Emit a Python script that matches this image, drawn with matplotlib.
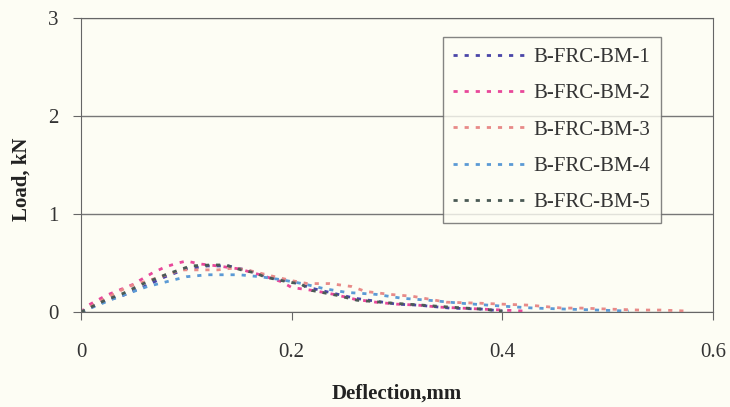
import matplotlib
matplotlib.use('Agg')
import matplotlib.pyplot as plt

# deflection (mm) and load (kN)
d1 = [0, 0.02, 0.04, 0.06, 0.08, 0.10, 0.12, 0.14, 0.16, 0.18, 0.20, 0.22, 0.24, 0.26, 0.28, 0.30, 0.32, 0.35, 0.38, 0.40]
p1 = [0, 0.10, 0.17, 0.26, 0.36, 0.44, 0.47, 0.47, 0.42, 0.35, 0.31, 0.24, 0.19, 0.14, 0.11, 0.08, 0.07, 0.04, 0.03, 0.01]

d2 = [0, 0.007, 0.024, 0.049, 0.068, 0.08, 0.092, 0.10, 0.113, 0.13, 0.15, 0.17, 0.19, 0.20, 0.22, 0.24, 0.26, 0.28, 0.30, 0.32, 0.34, 0.36, 0.38, 0.40, 0.42]
p2 = [0, 0.07, 0.17, 0.28, 0.40, 0.46, 0.50, 0.52, 0.49, 0.47, 0.44, 0.38, 0.31, 0.25, 0.22, 0.18, 0.13, 0.10, 0.08, 0.07, 0.05, 0.04, 0.03, 0.02, 0.01]

d3 = [0, 0.02, 0.045, 0.073, 0.095, 0.115, 0.13, 0.146, 0.161, 0.18, 0.20, 0.215, 0.236, 0.257, 0.27, 0.293, 0.315, 0.347, 0.378, 0.40, 0.425, 0.457, 0.475, 0.50, 0.53, 0.55, 0.575]
p3 = [0, 0.12, 0.26, 0.35, 0.43, 0.43, 0.43, 0.45, 0.42, 0.37, 0.32, 0.29, 0.29, 0.26, 0.21, 0.18, 0.16, 0.10, 0.09, 0.08, 0.07, 0.04, 0.04, 0.03, 0.02, 0.02, 0.01]

d4 = [0, 0.032, 0.063, 0.078, 0.089, 0.10, 0.12, 0.135, 0.15, 0.17, 0.19, 0.21, 0.23, 0.252, 0.28, 0.305, 0.33, 0.36, 0.40, 0.43, 0.46, 0.49, 0.52]
p4 = [0, 0.14, 0.26, 0.30, 0.33, 0.36, 0.38, 0.38, 0.38, 0.36, 0.33, 0.29, 0.24, 0.20, 0.18, 0.14, 0.12, 0.09, 0.06, 0.04, 0.03, 0.02, 0.01]

d5 = [0, 0.023, 0.04, 0.057, 0.08, 0.104, 0.123, 0.137, 0.152, 0.165, 0.174, 0.186, 0.20, 0.208, 0.219, 0.243, 0.262, 0.274, 0.296, 0.324, 0.35, 0.38, 0.40]
p5 = [0, 0.12, 0.19, 0.28, 0.38, 0.47, 0.48, 0.48, 0.43, 0.40, 0.36, 0.33, 0.30, 0.29, 0.22, 0.17, 0.12, 0.11, 0.09, 0.07, 0.05, 0.03, 0.01]

labels = ['B-FRC-BM-1', 'B-FRC-BM-2', 'B-FRC-BM-3', 'B-FRC-BM-4', 'B-FRC-BM-5']
colors = ['#4a46a8', '#e8489a', '#e88a88', '#5b9ad5', '#4a5a55']

plt.rcParams['font.family'] = ['Liberation Serif', 'DejaVu Serif']

bg = '#fdfdf4'
fig = plt.figure(figsize=(7.3, 4.07), dpi=100, facecolor=bg)
ax = fig.add_axes([0.111, 0.2334, 0.8658, 0.7224], facecolor=bg)

#plot each series with short dashes
for d, p, lab, c in zip([d1, d2, d3, d4, d5], [p1, p2, p3, p4, p5], labels, colors):
    ax.plot(d, p, color=c, lw=2, linestyle=(0, (1.5, 2.5)), label=lab)

ax.set_xlim(0, 0.6)
ax.set_ylim(0, 3)
ax.set_xticks([0, 0.2, 0.4, 0.6])
ax.set_xticklabels(['0', '0.2', '0.4', '0.6'])
ax.set_yticks([0, 1, 2, 3])
ax.yaxis.grid(True, color='#777777', lw=1)
ax.set_axisbelow(True)
for s in ax.spines.values():
    s.set_color('#666666')
ax.tick_params(axis='both', colors='#666666', labelcolor='#333333', labelsize=15, length=6)
ax.tick_params(axis='x', pad=16)
ax.tick_params(axis='y', pad=10)

ax.set_xlabel('Deflection,mm', fontsize=15, fontweight='bold', color='#222222')
ax.set_ylabel('Load, kN', fontsize=15, fontweight='bold', color='#222222')
ax.xaxis.set_label_coords(0.5, -0.245)
ax.yaxis.set_label_coords(-0.078, 0.45)

leg = ax.legend(loc='upper left', bbox_to_anchor=(0.556, 0.97), fontsize=15,
                frameon=True, fancybox=False, edgecolor='#666666', facecolor=bg,
                handlelength=3.6, handletextpad=0.25, labelspacing=0.8, borderpad=0.5)
leg.get_frame().set_linewidth(1)
for t in leg.get_texts():
    t.set_color('#333333')

plt.savefig('out.png', dpi=100, facecolor=bg)
